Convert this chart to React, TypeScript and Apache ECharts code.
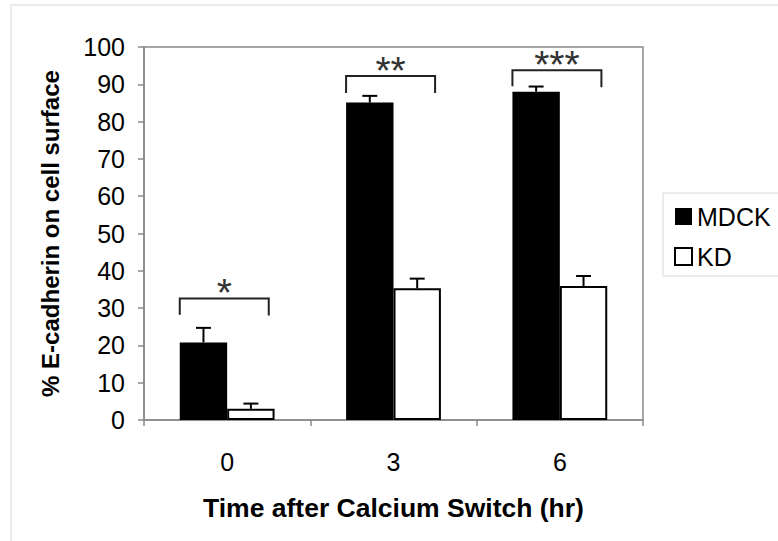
import React, { useEffect, useRef } from "react";
import * as echarts from "echarts";

const categories = ["0", "3", "6"];
const mdckValues = [20.8, 85.1, 88.0];
const mdckErrors = [3.9, 1.8, 1.4];
const kdValues = [3.0, 35.3, 35.9];
const kdErrors = [1.4, 2.6, 2.7];
const bracketTops = [32.6, 92.2, 93.8];
const bracketLeftEnds = [28.2, 87.7, 89.5];
const bracketRightEnds = [28.0, 87.7, 89.2];
const significance = ["*", "**", "***"];
const yMin = 0;
const yMax = 100;
const yInterval = 10;

const FONT = "'Liberation Sans', Arial, sans-serif";
const AXIS_GRAY = "#8a8a8a";
const BAR_WIDTH_FRAC = 0.285;

export default function App() {
  const ref = useRef<HTMLDivElement>(null);
  useEffect(() => {
    if (!ref.current) return;
    const chart = echarts.init(ref.current, null, { renderer: "svg" });

    const errorData: any[] = [];
    categories.forEach((_, i) => {
      errorData.push([i, mdckValues[i], mdckErrors[i], -1]);
      errorData.push([i, kdValues[i], kdErrors[i], 1]);
    });
    const bracketData = categories.map((_, i) => [i, bracketTops[i], bracketLeftEnds[i], bracketRightEnds[i]]);

    const option: any = {
      animation: false,
      backgroundColor: "#ffffff",
      textStyle: { fontFamily: FONT },
      graphic: [
        {
          type: "rect",
          shape: { x: 11, y: 5, width: 820, height: 600 },
          style: { fill: "none", stroke: "#ebebeb", lineWidth: 2 },
          silent: true,
          z: -10,
        },
      ],
      grid: {
        left: 144,
        top: 47,
        right: 135,
        bottom: 121,
        show: true,
        borderColor: AXIS_GRAY,
        borderWidth: 1.5,
        backgroundColor: "#ffffff",
      },
      legend: {
        orient: "vertical",
        left: 663,
        top: 193,
        padding: [11, 40, 7, 11],
        itemGap: 15,
        itemWidth: 17,
        itemHeight: 17,
        icon: "rect",
        borderColor: "#d8d8d8",
        borderWidth: 1,
        backgroundColor: "#ffffff",
        textStyle: { fontFamily: FONT, fontSize: 25, color: "#000", lineHeight: 25 },
        data: ["MDCK", "KD"],
      },
      xAxis: {
        type: "category",
        data: categories,
        name: "Time after Calcium Switch (hr)",
        nameLocation: "middle",
        nameGap: 74,
        nameTextStyle: { fontFamily: FONT, fontSize: 26.5, fontWeight: "bold", color: "#000" },
        axisLine: { lineStyle: { color: AXIS_GRAY, width: 1.5 } },
        axisTick: { show: true, length: 6, lineStyle: { color: AXIS_GRAY, width: 1.5 } },
        axisLabel: { fontFamily: FONT, fontSize: 25, color: "#000", margin: 29 },
      },
      yAxis: {
        type: "value",
        min: yMin,
        max: yMax,
        interval: yInterval,
        name: "% E-cadherin on cell surface",
        nameLocation: "middle",
        nameGap: 82,
        nameTextStyle: { fontFamily: FONT, fontSize: 24, fontWeight: "bold", color: "#000" },
        splitLine: { show: false },
        axisLine: { show: true, lineStyle: { color: AXIS_GRAY, width: 1.5 } },
        axisTick: { show: true, length: 6, lineStyle: { color: AXIS_GRAY, width: 1.5 } },
        axisLabel: { fontFamily: FONT, fontSize: 25, color: "#000", margin: 19 },
      },
      series: [
        {
          name: "MDCK",
          type: "bar",
          data: mdckValues,
          barWidth: "28.5%",
          barGap: "0%",
          itemStyle: { color: "#000000", borderWidth: 0 },
          z: 2,
        },
        {
          name: "KD",
          type: "bar",
          data: kdValues,
          barWidth: "28.5%",
          barGap: "0%",
          itemStyle: { color: "#ffffff", borderColor: "#000000", borderWidth: 2 },
          z: 2,
        },
        {
          name: "errors",
          type: "custom",
          data: errorData,
          z: 5,
          silent: true,
          renderItem: (params: any, api: any) => {
            const idx = api.value(0);
            const v = api.value(1);
            const e = api.value(2);
            const side = api.value(3);
            const base = api.coord([idx, v]);
            const top = api.coord([idx, v + e]);
            const band = api.size([1, 0])[0];
            const x = base[0] + side * (BAR_WIDTH_FRAC / 2) * band;
            const cap = band * 0.045;
            const style = { stroke: "#000", lineWidth: 2 };
            return {
              type: "group",
              children: [
                { type: "line", shape: { x1: x, y1: base[1], x2: x, y2: top[1] }, style },
                { type: "line", shape: { x1: x - cap, y1: top[1], x2: x + cap, y2: top[1] }, style },
              ],
            };
          },
        },
        {
          name: "brackets",
          type: "custom",
          data: bracketData,
          z: 5,
          silent: true,
          renderItem: (params: any, api: any) => {
            const idx = api.value(0);
            const topY = api.coord([idx, api.value(1)]);
            const leftY = api.coord([idx, api.value(2)])[1];
            const rightY = api.coord([idx, api.value(3)])[1];
            const band = api.size([1, 0])[0];
            const xl = topY[0] - BAR_WIDTH_FRAC * band;
            const xr = topY[0] + 0.25 * band;
            return {
              type: "group",
              children: [
                {
                  type: "polyline",
                  shape: { points: [[xl, leftY], [xl, topY[1]], [xr, topY[1]], [xr, rightY]] },
                  style: { stroke: "#222", lineWidth: 2, fill: "none" },
                },
                {
                  type: "text",
                  style: {
                    text: significance[params.dataIndex],
                    x: (xl + xr) / 2,
                    y: topY[1] + 14,
                    align: "center",
                    verticalAlign: "bottom",
                    fontFamily: FONT,
                    fontSize: 39,
                    fill: "#333",
                  },
                },
              ],
            };
          },
        },
      ],
    };
    chart.setOption(option);
    return () => chart.dispose();
  }, []);
  return (
    <div
      ref={ref}
      style={{ position: "fixed", left: 0, top: 0, width: 778, height: 541, background: "#fff" }}
    />
  );
}
